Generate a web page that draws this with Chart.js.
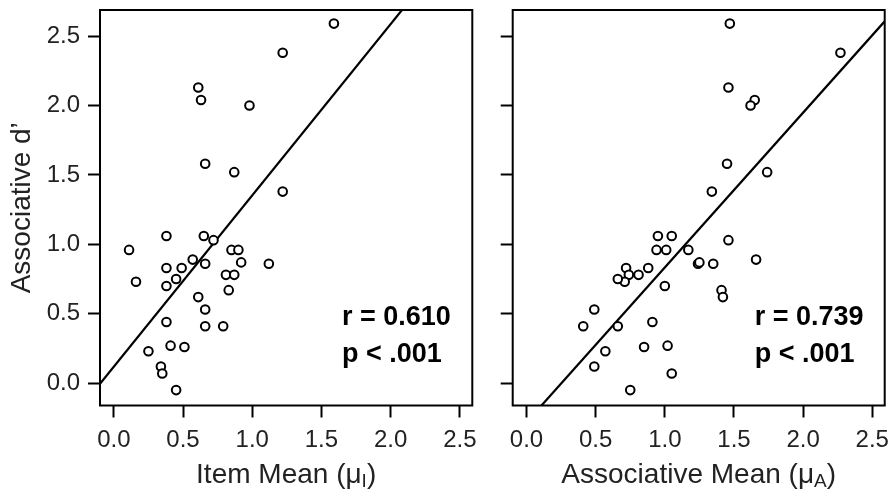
<!DOCTYPE html>
<html>
<head>
<meta charset="utf-8">
<script src="https://cdn.jsdelivr.net/npm/chart.js@4.4.1/dist/chart.umd.min.js"></script>
<style>
  html, body { margin: 0; padding: 0; background: #fff; }
  #wrap { position: relative; width: 891px; height: 500px; }
  canvas { position: absolute; top: 0; }
  #leftChart { left: 0; }
  #rightChart { left: 480px; }
</style>
</head>
<body>
<div id="wrap">
  <canvas id="leftChart" width="480" height="500"></canvas>
  <canvas id="rightChart" width="411" height="500"></canvas>
</div>
<script>
// Associative d' per participant (same order in both panels)
const dPrime = [2.59, 2.38, 2.13, 2.04, 2.00, 1.58, 1.52, 1.38, 1.06, 1.06, 1.03, 0.96, 0.96, 0.96,
                0.89, 0.86, 0.87, 0.86, 0.83, 0.83, 0.78, 0.78, 0.73, 0.75, 0.70, 0.67, 0.62, 0.53,
                0.44, 0.41, 0.41, 0.27, 0.26, 0.23, 0.12, 0.07, -0.05];
// Item mean (left panel x)
const itemMean = [1.59, 1.22, 0.61, 0.63, 0.98, 0.66, 0.87, 1.22, 0.38, 0.65, 0.72, 0.11, 0.85, 0.90,
                  0.57, 0.66, 0.92, 1.12, 0.38, 0.49, 0.81, 0.87, 0.16, 0.45, 0.38, 0.83, 0.61, 0.66,
                  0.38, 0.66, 0.79, 0.41, 0.51, 0.25, 0.34, 0.35, 0.45];
// Associative mean (right panel x)
const assocMean = [1.47, 2.27, 1.46, 1.65, 1.62, 1.45, 1.74, 1.34, 0.95, 1.05, 1.46, 0.94, 1.01, 1.17,
                   1.66, 1.24, 1.25, 1.35, 0.88, 0.72, 0.74, 0.81, 0.71, 0.66, 1.00, 1.41, 1.42, 0.49,
                   0.91, 0.41, 0.66, 1.02, 0.85, 0.57, 0.49, 1.05, 0.75];

const xTicks = [0, 0.5, 1.0, 1.5, 2.0, 2.5];
const yTicks = [0, 0.5, 1.0, 1.5, 2.0, 2.5];
const xRange = [-0.1, 2.59];
const yRange = [-0.161, 2.688];

// regression lines: [intercept, slope]
const itemFit = [0.1185, 1.234];
const assocFit = [-0.2815, 1.115];

const itemStats = ['r = 0.610', 'p < .001'];
const assocStats = ['r = 0.739', 'p < .001'];

const FONT = '"Liberation Sans", Arial, Helvetica, sans-serif';

// draws the box, the r/p text and the x title with its subscript
const framePlugin = {
    id: 'frame',
    afterDraw(chart, args, opts) {
        const { ctx, chartArea: a } = chart;
        ctx.save();
        ctx.strokeStyle = '#000';
        ctx.lineWidth = 2;
        ctx.strokeRect(a.left, a.top, a.right - a.left, a.bottom - a.top);

        ctx.fillStyle = '#000';
        ctx.textBaseline = 'alphabetic';
        ctx.textAlign = 'left';
        ctx.font = 'bold 27px ' + FONT;
        opts.stats.forEach((s, i) => ctx.fillText(s, a.left + 242, a.top + 315 + i * 37));

        // x axis title: main text, subscript, closing paren
        const [main, sub, close] = opts.title;
        ctx.fillStyle = '#222';
        ctx.font = '28px ' + FONT;
        const w1 = ctx.measureText(main).width;
        const w3 = ctx.measureText(close).width;
        ctx.font = '19px ' + FONT;
        const w2 = ctx.measureText(sub).width;
        let x = (a.left + a.right) / 2 - (w1 + w2 + w3) / 2;
        const base = 483;
        ctx.font = '28px ' + FONT;
        ctx.fillText(main, x, base);
        x += w1;
        ctx.font = '19px ' + FONT;
        ctx.fillText(sub, x, base + 4);
        x += w2;
        ctx.font = '28px ' + FONT;
        ctx.fillText(close, x, base);
        ctx.restore();
    }
};

function makeChart(id, xs, fit, stats, title, showYLabels, yWidth, padRight) {
    const points = xs.map((x, i) => ({ x: x, y: dPrime[i] }));
    const line = xRange.map(x => ({ x: x, y: fit[0] + fit[1] * x }));

    return new Chart(document.getElementById(id), {
        type: 'scatter',
        data: {
            datasets: [{
                data: points,
                pointStyle: 'circle',
                pointRadius: 4.3,
                pointBorderWidth: 2,
                pointBackgroundColor: '#fff',
                pointBorderColor: '#000'
            }, {
                data: line,
                showLine: true,
                pointRadius: 0,
                borderColor: '#000',
                borderWidth: 2.2
            }]
        },
        options: {
            responsive: false,
            animation: false,
            events: [],
            layout: { padding: { left: 0, top: 10, right: padRight, bottom: 0 } },
            plugins: {
                legend: { display: false },
                tooltip: { enabled: false },
                frame: { stats: stats, title: title }
            },
            scales: {
                x: {
                    type: 'linear',
                    min: xRange[0],
                    max: xRange[1],
                    afterBuildTicks: s => { s.ticks = xTicks.map(v => ({ value: v })); },
                    afterFit: s => { s.height = 94.5; s.paddingLeft = 0; s.paddingRight = 0; },
                    border: { display: false },
                    grid: { drawOnChartArea: false, drawTicks: true, tickLength: 12, tickWidth: 2, tickColor: '#000' },
                    ticks: {
                        color: '#222',
                        padding: 8,
                        maxRotation: 0,
                        autoSkip: false,
                        font: { family: FONT, size: 24 },
                        callback: v => v.toFixed(1)
                    }
                },
                y: {
                    type: 'linear',
                    min: yRange[0],
                    max: yRange[1],
                    afterBuildTicks: s => { s.ticks = yTicks.map(v => ({ value: v })); },
                    afterFit: s => { s.width = yWidth; s.paddingTop = 0; s.paddingBottom = 0; },
                    border: { display: false },
                    grid: { drawOnChartArea: false, drawTicks: true, tickLength: 12, tickWidth: 2, tickColor: '#000' },
                    ticks: {
                        color: showYLabels ? '#222' : 'rgba(0,0,0,0)',
                        padding: 8,
                        autoSkip: false,
                        font: { family: FONT, size: 24 },
                        callback: v => v.toFixed(1)
                    },
                    title: {
                        display: showYLabels,
                        text: 'Associative d\u2019',
                        color: '#222',
                        font: { family: FONT, size: 28 },
                        padding: { top: 5, bottom: 0 }
                    }
                }
            }
        },
        plugins: [framePlugin]
    });
}

makeChart('leftChart', itemMean, itemFit, itemStats, ['Item Mean (\u03bc', 'I', ')'], true, 100, 7.7);
makeChart('rightChart', assocMean, assocFit, assocStats, ['Associative Mean (\u03bc', 'A', ')'], false, 32.7, 6);
</script>
</body>
</html>
